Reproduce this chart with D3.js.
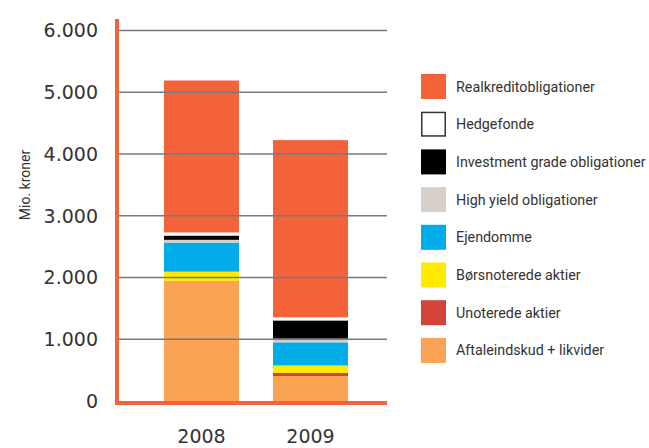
<!DOCTYPE html>
<html>
<head>
<meta charset="utf-8">
<script src="https://cdn.jsdelivr.net/npm/d3@7"></script>
<style>
  html, body { margin: 0; padding: 0; background: #fff; }
  svg { display: block; }
</style>
</head>
<body>
<svg id="chart" width="649" height="448"></svg>
<script>
// ---- Data ----
const years = ["2008", "2009"];
const seriesNames = [
  "Aftaleindskud + likvider",
  "Unoterede aktier",
  "Børsnoterede aktier",
  "Ejendomme",
  "High yield obligationer",
  "Investment grade obligationer",
  "Hedgefonde",
  "Realkreditobligationer"
];
const aftaleindskud   = [1945, 405];
const unoterede       = [0, 50];
const boersnoterede   = [150, 120];
const ejendomme       = [470, 375];
const highYield       = [45, 60];
const investmentGrade = [70, 295];
const hedgefonde      = [50, 50];
const realkredit      = [2460, 2870];
const yTicks = [0, 1000, 2000, 3000, 4000, 5000, 6000];
const yTickLabels = ["0", "1.000", "2.000", "3.000", "4.000", "5.000", "6.000"];
const colors = ["#fba354", "#d2443a", "#ffea00", "#00ade8", "#d8cfc8", "#000000", "#ffffff", "#f4623a"];

const seriesValues = [aftaleindskud, unoterede, boersnoterede, ejendomme, highYield, investmentGrade, hedgefonde, realkredit];
const table = years.map((yr, i) => {
  const row = { year: yr };
  seriesNames.forEach((n, s) => row[n] = seriesValues[s][i]);
  return row;
});

// ---- Layout ----
const svg = d3.select("#chart");
const y = d3.scaleLinear().domain([0, 6000]).range([401, 30.5]);
const x = d3.scaleBand().domain(years).range([130, 382]).paddingInner(0.312).paddingOuter(0.312);
const color = d3.scaleOrdinal().domain(seriesNames).range(colors);

const stacked = d3.stack().keys(seriesNames)(table);

// Bars
svg.append("g").selectAll("g")
  .data(stacked)
  .join("g")
  .attr("fill", d => color(d.key))
  .selectAll("rect")
  .data(d => d)
  .join("rect")
  .attr("x", d => x(d.data.year))
  .attr("width", x.bandwidth())
  .attr("y", d => y(d[1]))
  .attr("height", d => Math.max(0, y(d[0]) - y(d[1])));

// Gridlines (drawn above bars)
svg.append("g").selectAll("line")
  .data(yTicks.filter(t => t > 0))
  .join("line")
  .attr("x1", 119).attr("x2", 387)
  .attr("y1", d => y(d)).attr("y2", d => y(d))
  .attr("stroke", "#727a83")
  .attr("stroke-width", 1.6);

// Axis lines
svg.append("line")
  .attr("x1", 117).attr("x2", 117)
  .attr("y1", 19).attr("y2", 405)
  .attr("stroke", "#f4623a").attr("stroke-width", 4);
svg.append("line")
  .attr("x1", 115).attr("x2", 387)
  .attr("y1", 403).attr("y2", 403)
  .attr("stroke", "#f4623a").attr("stroke-width", 4);

// Y tick labels
svg.append("g").selectAll("text")
  .data(yTicks)
  .join("text")
  .attr("x", 98)
  .attr("y", d => y(d))
  .attr("dy", "0.36em")
  .attr("text-anchor", "end")
  .attr("font-family", "DejaVu Sans")
  .attr("font-size", 19)
  .attr("fill", "#333")
  .text((d, i) => yTickLabels[i]);

// Y title
svg.append("text")
  .attr("transform", "translate(30,185) rotate(-90)")
  .attr("text-anchor", "middle")
  .attr("font-family", "Roboto")
  .attr("font-size", 14)
  .attr("fill", "#333")
  .text("Mio. kroner");

// X labels
svg.append("g").selectAll("text")
  .data(years)
  .join("text")
  .attr("x", d => x(d) + x.bandwidth() / 2)
  .attr("y", 443)
  .attr("text-anchor", "middle")
  .attr("font-family", "DejaVu Sans")
  .attr("font-size", 19)
  .attr("fill", "#333")
  .text(d => d);

// Legend
const legendOrder = seriesNames.slice().reverse();
const lg = svg.append("g").selectAll("g")
  .data(legendOrder)
  .join("g")
  .attr("transform", (d, i) => `translate(421,${74 + i * 37.7})`);
lg.append("rect")
  .attr("x", d => d === "Hedgefonde" ? 0.75 : 0)
  .attr("y", d => d === "Hedgefonde" ? 0.75 : 0)
  .attr("width", d => d === "Hedgefonde" ? 23.5 : 25)
  .attr("height", d => d === "Hedgefonde" ? 23.5 : 25)
  .attr("fill", d => color(d))
  .attr("stroke", d => d === "Hedgefonde" ? "#333" : "none")
  .attr("stroke-width", 1.5);
lg.append("text")
  .attr("x", 35)
  .attr("y", 12.5)
  .attr("dy", "0.35em")
  .attr("font-family", "Roboto")
  .attr("font-size", 14.3)
  .attr("fill", "#333")
  .text(d => d);
</script>
</body>
</html>
